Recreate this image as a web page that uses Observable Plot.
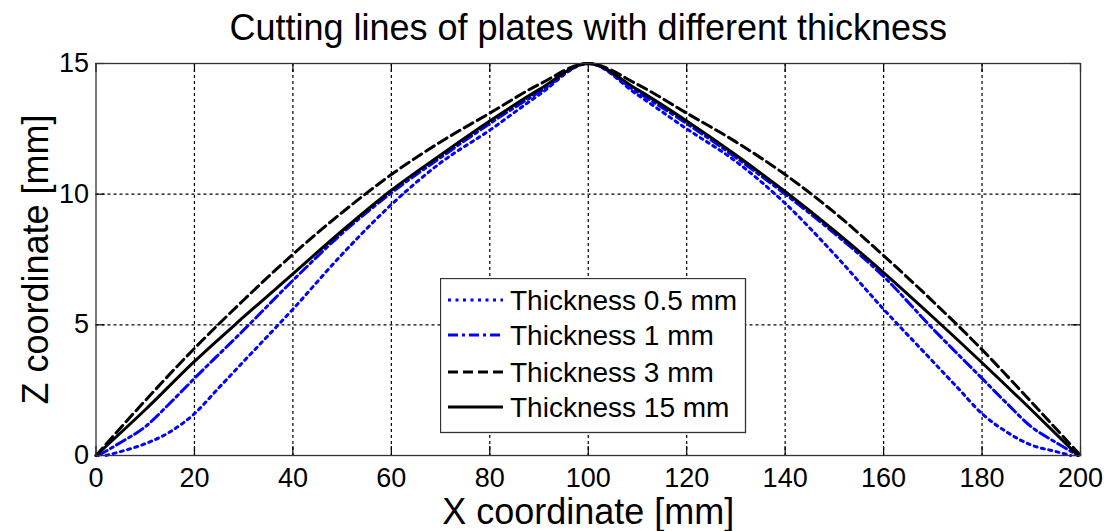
<!DOCTYPE html>
<html><head><meta charset="utf-8">
<script src="https://cdn.jsdelivr.net/npm/d3@7"></script>
<script src="https://cdn.jsdelivr.net/npm/@observablehq/plot@0.6"></script>
<style>
body{margin:0;background:#fff;}
#wrap{position:relative;width:1110px;height:531px;font-family:"Liberation Sans",Arial,sans-serif;}
</style></head>
<body><div id="wrap"></div>
<script>
const titleText = "Cutting lines of plates with different thickness";
const xLabel = "X coordinate [mm]";
const yLabel = "Z coordinate [mm]";
const xTicks = [0,20,40,60,80,100,120,140,160,180,200];
const yTicks = [0,5,10,15];

// Thickness 0.5 mm (dotted blue)
const x05 = [2,5,10,15,20,25,30,40,50,60,70,80,90,100,110,120,130,140,150,160,170,175,180,185,190,195,198];
const z05 = [0,0.15,0.45,0.9,1.6,2.6,3.6,5.6,7.7,9.6,11.2,12.45,13.8,15,13.8,12.5,11.25,9.65,7.7,5.6,3.6,2.6,1.6,0.9,0.4,0.15,0];
// Thickness 1 mm (dash-dot blue)
const x1 = [0.5,5,10,15,20,30,40,50,60,70,80,90,100,110,120,130,140,150,160,170,180,185,190,195,199.5];
const z1 = [0,0.5,1.1,2.0,2.95,4.8,6.7,8.5,10.05,11.4,12.7,13.9,15,13.9,12.7,11.4,10.0,8.5,6.85,4.85,2.95,2.0,1.1,0.5,0];
// Thickness 3 mm (dashed black)
const x3 = [0,10,20,30,40,50,60,70,80,90,100,110,120,130,140,150,160,170,180,190,200];
const z3 = [0,2.1,4.1,5.95,7.7,9.3,10.75,12.0,13.1,14.2,15,14.2,13.1,12.0,10.75,9.3,7.65,5.9,4.05,2.05,0];
// Thickness 15 mm (solid black)
const x15 = [0,10,20,30,40,50,60,70,80,90,100,110,120,130,140,150,160,170,180,190,199.5];
const z15 = [0,1.75,3.6,5.3,6.95,8.6,10.15,11.5,12.8,14.0,15,14.0,12.8,11.5,10.1,8.6,7.0,5.3,3.55,1.75,0];

const seriesNames = ["Thickness 0.5 mm","Thickness 1 mm","Thickness 3 mm","Thickness 15 mm"];
const seriesColors = ["#0000ff","#0000ff","#000000","#000000"];
const seriesDash = ["3,4.5","10,4,3,4","10,5",null];

const series = [[x05,z05],[x1,z1],[x3,z3],[x15,z15]].map(([xs,zs],i)=>xs.map((x,j)=>({x, z: zs[j], s: seriesNames[i]})));

const W = 1110, H = 531, mT = 63, mB = 76, mL = 95.5, mR = 30;
const innerH = H - mT - mB, innerW = W - mL - mR;
const font = '"Liberation Sans",Arial,sans-serif';

const marks = [
  Plot.gridX(xTicks.slice(1,-1), {stroke:"#000", strokeOpacity:1, strokeWidth:1.2, strokeDasharray:"3,3"}),
  Plot.gridY(yTicks.slice(1,-1), {stroke:"#000", strokeOpacity:1, strokeWidth:1.2, strokeDasharray:"3,3"}),
  Plot.tickX(xTicks, {x: d=>d, insetTop: innerH-9, stroke:"#000", strokeWidth:1.2}),
  Plot.tickX(xTicks, {x: d=>d, insetBottom: innerH-9, stroke:"#000", strokeWidth:1.2}),
  Plot.tickY(yTicks, {y: d=>d, insetRight: innerW-9, stroke:"#000", strokeWidth:1.2}),
  Plot.tickY(yTicks, {y: d=>d, insetLeft: innerW-9, stroke:"#000", strokeWidth:1.2}),
  ...series.map((data,i)=>Plot.line(data, {x:"x", y:"z", stroke: seriesColors[i], strokeWidth: 3, strokeDasharray: seriesDash[i], curve:"monotone-x"})),
  Plot.frame({stroke:"#333", strokeWidth:1.3}),
  Plot.text(xTicks, {x: d=>d, frameAnchor:"bottom", dy:23, lineAnchor:"middle", text: d=>String(d), fontSize:27, fill:"#000"}),
  Plot.text(yTicks, {y: d=>d, frameAnchor:"left", dx:-7, textAnchor:"end", lineAnchor:"middle", text: d=>String(d), fontSize:27, fill:"#000"}),
  Plot.text([titleText], {frameAnchor:"top", dy:-35, lineAnchor:"middle", fontSize:36, fill:"#000"}),
  Plot.text([xLabel], {frameAnchor:"bottom", dy:57, lineAnchor:"middle", fontSize:36, fill:"#000"}),
  Plot.text([yLabel], {frameAnchor:"left", dx:-60, rotate:-90, textAnchor:"middle", lineAnchor:"middle", fontSize:36, fill:"#000"})
];

const chart = Plot.plot({
  width: W, height: H,
  marginTop: mT, marginBottom: mB, marginLeft: mL, marginRight: mR,
  style: {fontFamily: font, background:"#fff", overflow:"visible"},
  x: {domain:[0,200], axis:null},
  y: {domain:[0,15], axis:null},
  marks
});
const wrap = document.getElementById("wrap");
wrap.appendChild(chart);

// legend
const lg = d3.create("svg").attr("id","legend").attr("width",307).attr("height",156)
  .style("position","absolute").style("left","440px").style("top","278px");
lg.append("rect").attr("x",0.5).attr("y",0.5).attr("width",305).attr("height",154)
  .attr("fill","#fff").attr("stroke","#333").attr("stroke-width",1.3);
const rowY = [22,57,94,129];
seriesNames.forEach((n,i)=>{
  lg.append("line").attr("x1",8).attr("x2",63).attr("y1",rowY[i]).attr("y2",rowY[i])
    .attr("stroke",seriesColors[i]).attr("stroke-width",3).attr("stroke-dasharray",seriesDash[i]);
  lg.append("text").attr("x",70).attr("y",rowY[i]).attr("dy","0.36em")
    .attr("font-family",font).attr("font-size",28).attr("fill","#000").text(n);
});
wrap.appendChild(lg.node());
</script></body></html>
